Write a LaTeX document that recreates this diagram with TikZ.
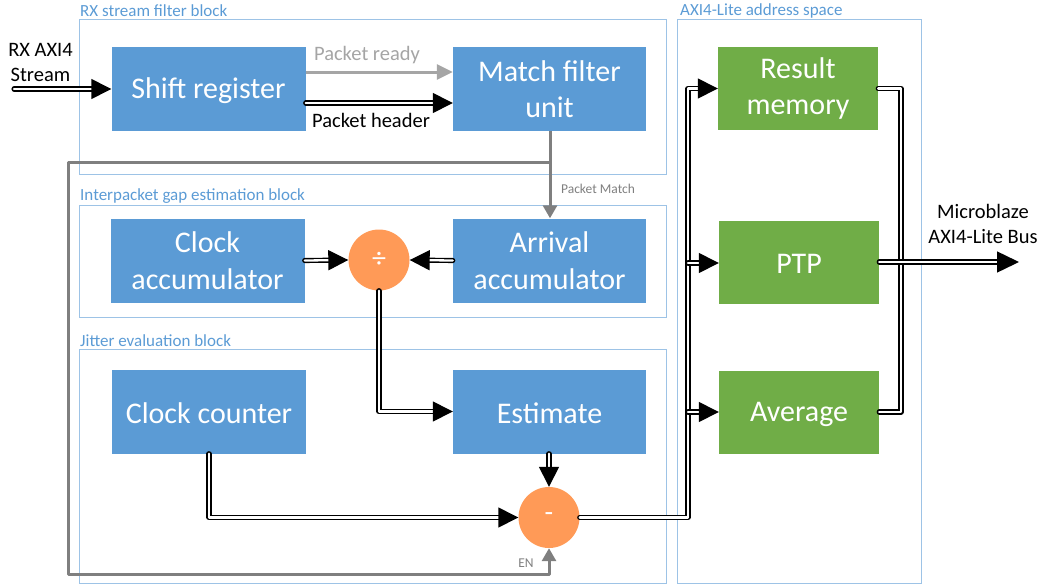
\documentclass[tikz,border=0pt]{standalone}
\usepackage{fontspec}
\setmainfont{Carlito}
\usetikzlibrary{arrows.meta}
\definecolor{boxblue}{HTML}{5B9BD5}
\definecolor{boxgreen}{HTML}{70AD47}
\definecolor{opfill}{HTML}{FF9A57}
\definecolor{framecol}{HTML}{9DC3E6}
\definecolor{sig}{HTML}{7F7F7F}
\definecolor{readycol}{HTML}{A5A5A5}
% lower a one-line caption slightly without changing its box
\newcommand{\lowered}[1]{\raisebox{-2pt}[\height][\depth]{#1}}
\tikzset{
  unit/.style={rectangle, fill=#1, draw=none, text=white, align=center,
    minimum width=194pt, minimum height=84pt, inner sep=0pt,
    font=\fontsize{30}{36.6}\selectfont},
  regbox/.style={unit=boxgreen, minimum width=160pt, minimum height=83pt},
  opnode/.style={circle, fill=opfill, draw=none, minimum size=61pt, inner sep=0pt,
    text=white, font=\fontsize{28}{30}\selectfont},
  blockframe/.style={draw=framecol, line width=0.9pt},
  blocklabel/.style={text=boxblue, anchor=west, inner sep=0pt,
    font=\fontsize{17}{20}\selectfont},
  bus/.style={draw=black, line width=1.4pt, double=white, double distance=2.3pt,
    line cap=round, line join=round},
  busarrow/.style={bus, -{Triangle[length=20pt, width=20pt]}},
  ctrl/.style={draw=sig, line width=3pt, line join=round,
    -{Triangle[length=13pt, width=14pt]}},
  lbl/.style={inner sep=0pt, align=center, font=\fontsize{20.5}{25}\selectfont},
  smalllbl/.style={inner sep=0pt, text=sig, font=\fontsize{13.5}{16}\selectfont},
}
\begin{document}
\begin{tikzpicture}[x=1pt, y=-1pt]
\useasboundingbox (0,0) rectangle (1039,584);

% block outlines and their titles
\draw[blockframe] (79,19) rectangle (666,174);
\node[blocklabel] at (80,10.5) {RX stream filter block};
\draw[blockframe] (79,205.5) rectangle (666,317.5);
\node[blocklabel] at (80,196) {Interpacket gap estimation block};
\draw[blockframe] (79,349) rectangle (666,583);
\node[blocklabel] at (80,341) {Jitter evaluation block};
\draw[blockframe] (677,19) rectangle (921,583);
\node[blocklabel] at (680,10.5) {AXI4-Lite address space};

% processing units
\node[unit=boxblue] (shift) at (208.5,89) {\lowered{Shift register}};
\node[unit=boxblue, minimum width=193pt] (match) at (549.5,89) {Match filter\\unit};
\node[unit=boxblue] (clkacc) at (207.5,260.5) {Clock\\accumulator};
\node[unit=boxblue, minimum width=193pt] (arracc) at (549.5,260.5) {Arrival\\accumulator};
\node[unit=boxblue] (clkcnt) at (209,411.5) {\lowered{Clock counter}};
\node[unit=boxblue, minimum width=193pt] (est) at (549.5,411.5) {\lowered{Estimate}};

% registers
\node[regbox] (result) at (798,88.5) {Result\\memory};
\node[regbox] (ptp) at (799,262) {\lowered{PTP}};
\node[regbox] (avg) at (799,412) {\lowered{Average}};

% arithmetic operators
\node[opnode] (div) at (379,260) {÷};
\node[opnode] (sub) at (549,517.5) {-};

% input stream
\coordinate (rxin) at (14,89);
\node[lbl] (rxlbl) at (40.5,62) {RX AXI4\\Stream};
\draw[busarrow] (rxin) -- (shift.west);

% shift register to match filter
\draw[draw=readycol, line width=3pt, -{Triangle[length=16pt, width=15pt]}]
  (shift.east |- 0,72) -- (match.west |- 0,72);
\node[lbl, text=readycol] (readylbl) at (367,55) {Packet ready};
\draw[busarrow] (shift.east |- 0,103) -- (match.west |- 0,103);
\node[lbl] (hdrlbl) at (371,120) {Packet header};

% packet match / enable signal
\coordinate (tap) at (550,162);
\draw[ctrl] (match.south -| tap) -- (arracc.north -| tap);
\node[smalllbl] (matchlbl) at (598,189) {Packet Match};
\draw[ctrl] (tap) -- (68,162) -- (68,574) -- (sub.south |- 0,574) -- (sub.south);
\node[smalllbl] (enlbl) at (526,563) {EN};

% gap estimation
\draw[busarrow] (clkacc.east) -- (div.west);
\draw[busarrow] (arracc.west) -- (div.east);
\draw[busarrow] (div.south) -- (div.south |- est.west) -- (est.west);

% jitter evaluation
\draw[busarrow] (est.south -| sub.north) -- (sub.north);
\draw[busarrow] (clkcnt.south) -- (clkcnt.south |- sub.west) -- (sub.west);

% result bus into the address space
\coordinate (busx) at (688,0);
\draw[busarrow] (sub.east) -- (busx |- sub.east) -- (busx |- result.west) -- (result.west);
\draw[busarrow] (busx |- 0,263) -- (ptp.west |- 0,263);
\draw[busarrow] (busx |- avg.west) -- (avg.west);

% register readback
\coordinate (rbx) at (901,0);
\draw[bus] (result.east) -- (rbx |- result.east) -- (rbx |- avg.east) -- (avg.east);
\coordinate (mbout) at (1019,262);
\draw[bus, -{Triangle[length=22pt, width=21pt]}] (ptp.east) -- (mbout);
\node[lbl] (mblbl) at (983,223.5) {Microblaze\\AXI4-Lite Bus};
\end{tikzpicture}
\end{document}
